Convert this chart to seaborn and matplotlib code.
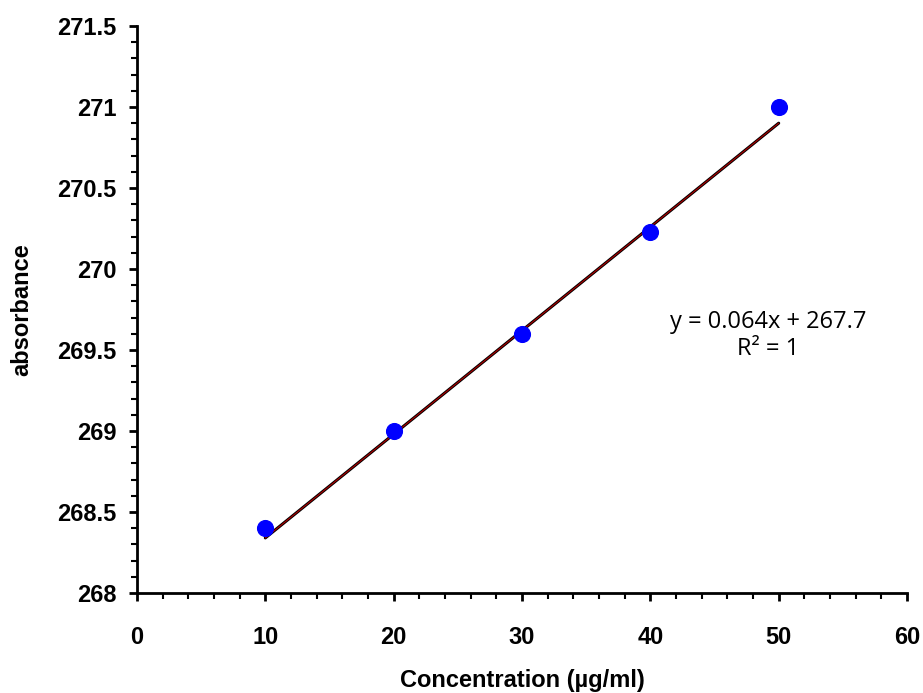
import numpy as np
import pandas as pd
import seaborn as sns
import matplotlib
matplotlib.use("Agg")
import matplotlib.pyplot as plt
from matplotlib.ticker import MultipleLocator, FixedLocator

concentration = [10, 20, 30, 40, 50]
absorbance = [268.4, 269.0, 269.6, 270.23, 271.0]
slope = 0.064
intercept = 267.7
equation_text = "y = 0.064x + 267.7\nR² = 1"
x_ticks = [0, 10, 20, 30, 40, 50, 60]
y_ticks = [268, 268.5, 269, 269.5, 270, 270.5, 271, 271.5]
y_tick_labels = ["268", "268.5", "269", "269.5", "270", "270.5", "271", "271.5"]

sns.set_style("white")
plt.rcParams['font.family'] = ['Liberation Sans', 'DejaVu Sans']
plt.rcParams['text.color'] = 'black'
plt.rcParams['axes.labelcolor'] = 'black'
plt.rcParams['xtick.color'] = 'black'
plt.rcParams['ytick.color'] = 'black'

df = pd.DataFrame({"x": concentration, "y": absorbance})
fit_x = np.array([concentration[0], concentration[-1]])
fit_df = pd.DataFrame({"x": fit_x, "y": slope * fit_x + intercept})

fig = plt.figure(figsize=(9.23, 6.93), dpi=100)
ax = fig.add_axes([0.1484, 0.1443, 0.8343, 0.8182])

sns.lineplot(data=fit_df, x="x", y="y", ax=ax, color="black", linewidth=2.2, zorder=2)
sns.lineplot(data=fit_df, x="x", y="y", ax=ax, color="#b00000", linewidth=0.8, zorder=3)
sns.scatterplot(data=df, x="x", y="y", ax=ax, color="#0000ff", s=130, edgecolor="#0000ff", zorder=4)

ax.set_xlim(0, 60)
ax.set_ylim(268, 271.5)
ax.xaxis.set_major_locator(FixedLocator(x_ticks))
ax.xaxis.set_minor_locator(MultipleLocator(2))
ax.yaxis.set_major_locator(FixedLocator(y_ticks))
ax.set_yticklabels(y_tick_labels)
ax.yaxis.set_minor_locator(MultipleLocator(0.1))

for s in ["top", "right"]:
    ax.spines[s].set_visible(False)
for s in ["left", "bottom"]:
    ax.spines[s].set_color("black")
    ax.spines[s].set_linewidth(2)

ax.tick_params(axis="both", which="both", bottom=True, left=True, top=False, right=False)
ax.tick_params(axis="both", which="major", direction="out", length=6, width=2, colors="black",
               labelsize=17, pad=9)
ax.tick_params(axis="x", which="major", pad=18)
ax.tick_params(axis="both", which="minor", direction="out", length=4, width=1.5, colors="black")
for lab in ax.get_xticklabels() + ax.get_yticklabels():
    lab.set_fontweight("bold")

ax.set_xlabel("Concentration (µg/ml)", fontsize=17, fontweight="bold", labelpad=14, color="black")
ax.set_ylabel("absorbance", fontsize=17, fontweight="bold", labelpad=17, color="black")

ax.text(49.2, 269.59, equation_text, ha="center", va="center", fontsize=17,
        family=["Open Sans", "DejaVu Sans"], linespacing=1.2, color="black")

fig.savefig("out.png", dpi=100)
